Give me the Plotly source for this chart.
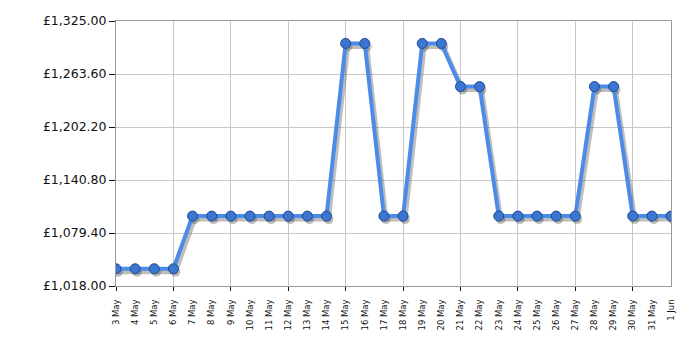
import plotly.graph_objects as go

dates = ["3 May", "4 May", "5 May", "6 May", "7 May", "8 May", "9 May", "10 May",
         "11 May", "12 May", "13 May", "14 May", "15 May", "16 May", "17 May", "18 May",
         "19 May", "20 May", "21 May", "22 May", "23 May", "24 May", "25 May", "26 May",
         "27 May", "28 May", "29 May", "30 May", "31 May", "1 Jun"]
prices = [1038, 1038, 1038, 1038, 1099, 1099, 1099, 1099,
          1099, 1099, 1099, 1099, 1299, 1299, 1099, 1099,
          1299, 1299, 1249, 1249, 1099, 1099, 1099, 1099,
          1099, 1249, 1249, 1099, 1099, 1099]
y_ticks = [1018.00, 1079.40, 1140.80, 1202.20, 1263.60, 1325.00]
y_tick_labels = ["\u00a3" + f"{v:,.2f}" for v in y_ticks]
y_min, y_max = 1018.0, 1325.0

n = len(dates)
pos = list(range(n))  # category positions
font = dict(family="DejaVu Sans, Verdana, sans-serif", color="#111111")

fig = go.Figure()

# drop shadow (base subplot, shifted hidden axes)
fig.add_trace(go.Scatter(
    x=pos, y=prices, xaxis="x", yaxis="y", mode="lines+markers",
    line=dict(color="rgba(70,70,70,0.35)", width=5),
    marker=dict(size=10, color="rgba(70,70,70,0.35)"),
    hoverinfo="skip", showlegend=False))

# main line (overlay subplot with visible axes)
fig.add_trace(go.Scatter(
    x=pos, y=prices, xaxis="x2", yaxis="y2", mode="lines+markers",
    line=dict(color="#4d8be8", width=4),
    marker=dict(size=10, color="#3a76d2", line=dict(color="#1f4a8c", width=1)),
    text=dates, hovertemplate="%{text}: £%{y:,.2f}<extra></extra>",
    showlegend=False))

dx = 0.1
dy = 3.5

fig.update_layout(
    width=700, height=350,
    margin=dict(l=116, r=29, t=21, b=64),
    paper_bgcolor="white", plot_bgcolor="white",
    font=font,
    showlegend=False,
    xaxis=dict(range=[-dx, n - 1 - dx], visible=False, showgrid=False,
               zeroline=False, fixedrange=True),
    yaxis=dict(range=[y_min + dy, y_max + dy], visible=False, showgrid=False,
               zeroline=False, fixedrange=True),
    xaxis2=dict(overlaying="x", anchor="y2", side="bottom",
                range=[0, n - 1], tickmode="array", tickvals=pos, ticktext=dates,
                showgrid=False, zeroline=False,
                showline=True, linecolor="#999999", linewidth=1, mirror=True,
                ticks="outside", ticklen=9, tickcolor="rgba(0,0,0,0)",
                tickangle=-90, tickfont=dict(size=8.5),
                minor=dict(tickmode="linear", tick0=0, dtick=3, showgrid=True,
                           gridcolor="#c8c8c8", gridwidth=1,
                           ticks="outside", ticklen=4, tickcolor="#111111"),
                fixedrange=True),
    yaxis2=dict(overlaying="y", anchor="x2", side="left",
                range=[y_min, y_max], tickmode="array",
                tickvals=y_ticks, ticktext=y_tick_labels,
                showgrid=True, gridcolor="#c8c8c8", gridwidth=1,
                showline=True, linecolor="#999999", linewidth=1, mirror=True,
                ticks="outside", ticklen=6, tickcolor="#111111",
                tickfont=dict(size=12.5), zeroline=False, fixedrange=True),
)

fig.write_html("out.html")
